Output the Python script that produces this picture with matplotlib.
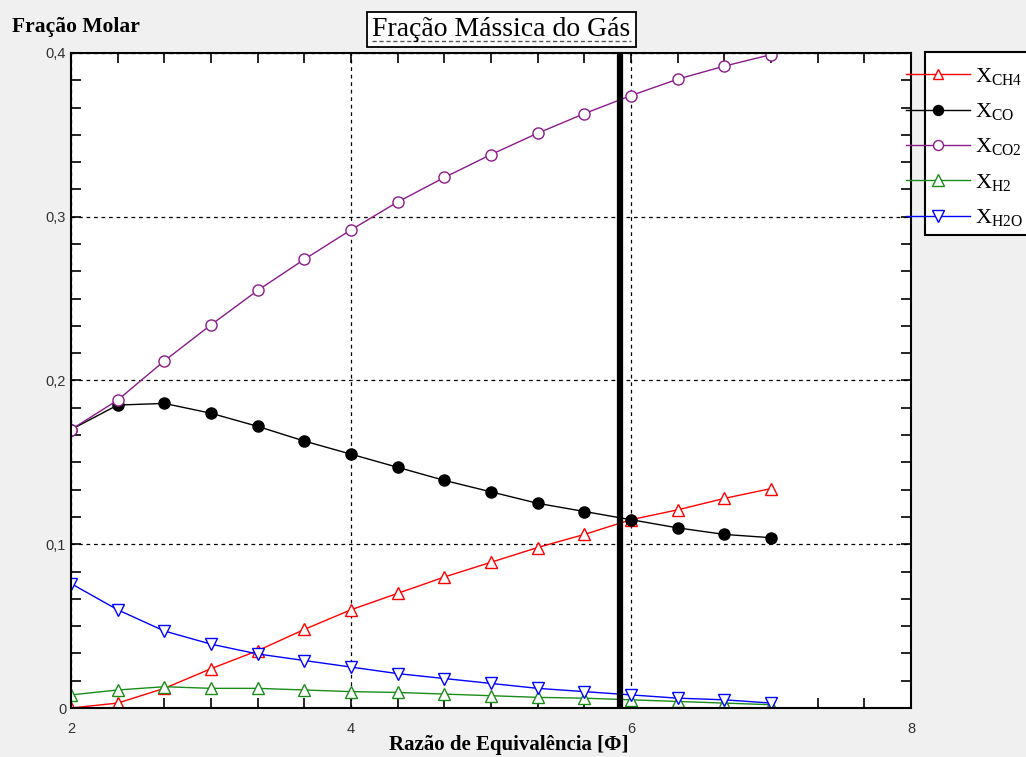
import matplotlib
matplotlib.use('Agg')
import matplotlib.pyplot as plt
from matplotlib.ticker import MultipleLocator, FuncFormatter
from matplotlib.patches import Rectangle
from matplotlib.lines import Line2D

# equivalence ratio where the markers sit
phi = [2.0, 2.333, 2.667, 3.0, 3.333, 3.667, 4.0, 4.333,
       4.667, 5.0, 5.333, 5.667, 6.0, 6.333, 6.667, 7.0]

x_ch4 = [0.000, 0.003, 0.012, 0.024, 0.035, 0.048, 0.060, 0.070,
         0.080, 0.089, 0.098, 0.106, 0.115, 0.121, 0.128, 0.134]
x_co = [0.170, 0.185, 0.186, 0.180, 0.172, 0.163, 0.155, 0.147,
        0.139, 0.132, 0.125, 0.120, 0.115, 0.110, 0.106, 0.104]
x_co2 = [0.170, 0.188, 0.212, 0.234, 0.255, 0.274, 0.292, 0.309,
         0.324, 0.338, 0.351, 0.363, 0.374, 0.384, 0.392, 0.399]
x_h2 = [0.008, 0.011, 0.013, 0.012, 0.012, 0.011, 0.010, 0.0095,
        0.0085, 0.0075, 0.0065, 0.006, 0.005, 0.004, 0.003, 0.002]
x_h2o = [0.076, 0.060, 0.047, 0.039, 0.033, 0.029, 0.025, 0.021,
         0.018, 0.015, 0.012, 0.010, 0.008, 0.006, 0.005, 0.003]

phi_mark = 5.92
serif = 'Liberation Serif'
sans = 'Liberation Sans'

plt.rcParams['mathtext.fontset'] = 'custom'
plt.rcParams['mathtext.rm'] = serif

fig = plt.figure(figsize=(10.26, 7.57), dpi=100)
fig.patch.set_facecolor('#f0f0f0')
ax = fig.add_axes([71/1026, 49/757, 840/1026, 655/757])

ax.plot(phi, x_ch4, color='red', lw=1, marker='^', ms=8, mfc='white', mec='red',
        label=r'X$_{\mathrm{CH4}}$')
ax.plot(phi, x_co, color='black', lw=1, marker='o', ms=8, mfc='black', mec='black',
        label=r'X$_{\mathrm{CO}}$')
ax.plot(phi, x_co2, color='#8b1a8b', lw=1, marker='o', ms=8, mfc='white', mec='#8b1a8b',
        label=r'X$_{\mathrm{CO2}}$')
ax.plot(phi, x_h2, color='#1a8c1a', lw=1, marker='^', ms=9, mfc='white', mec='#1a8c1a',
        label=r'X$_{\mathrm{H2}}$')
ax.plot(phi, x_h2o, color='blue', lw=1, marker='v', ms=9, mfc='white', mec='blue',
        label=r'X$_{\mathrm{H2O}}$')

ax.axvline(phi_mark, color='black', lw=4.5, zorder=5)

ax.set_xlim(2, 8)
ax.set_ylim(0, 0.4)
ax.xaxis.set_major_locator(MultipleLocator(2))
ax.xaxis.set_minor_locator(MultipleLocator(1/3))
ax.yaxis.set_major_locator(MultipleLocator(0.1))
ax.yaxis.set_minor_locator(MultipleLocator(0.1/6))
ax.yaxis.set_major_formatter(FuncFormatter(lambda v, p: '0' if abs(v) < 1e-9 else f'{v:.1f}'.replace('.', ',')))
ax.tick_params(which='both', direction='in', length=7, width=1.2, top=True, right=True,
               labelsize=10.5, labelcolor='#333333')
ax.tick_params(axis='x', pad=10)
for lab in ax.get_xticklabels() + ax.get_yticklabels():
    lab.set_family(sans)
ax.grid(which='major', color='black', ls=(0, (3, 3)), lw=0.9)
for s in ax.spines.values():
    s.set_linewidth(1.5)

fig.text(12/1026, 1 - 27/757, 'Fração Molar', fontsize=15.5, fontweight='bold',
         family=serif, va='center', ha='left')
fig.text(509/1026, 1 - 745/757, 'Razão de Equivalência [Φ]', fontsize=15, fontweight='bold',
         family=serif, va='center', ha='center')

# title box with dashed underline
fig.patches.append(Rectangle((367/1026, 1 - 47/757), 269/1026, 35/757,
                             transform=fig.transFigure, fc='white', ec='black', lw=1.3))
fig.text(501/1026, 1 - 29/757, 'Fração Mássica do Gás', fontsize=20, family=serif,
         va='center', ha='center')
fig.lines.append(Line2D([372/1026, 631/1026], [1 - 41/757, 1 - 41/757],
                        transform=fig.transFigure, color='#555555', lw=1, ls=(0, (3, 2))))

# legend box
fig.patches.append(Rectangle((925/1026, 1 - 235/757), 110/1026, 183/757,
                             transform=fig.transFigure, fc='white', ec='black', lw=1.5,
                             zorder=-1))
handles, labels = ax.get_legend_handles_labels()
fig.legend(handles, labels, loc='upper left', bbox_to_anchor=(906/1026, 1 - 66/757),
           frameon=False, handlelength=2.9, handletextpad=0.2, labelspacing=0.62,
           borderpad=0, borderaxespad=0, prop={'family': serif, 'size': 16},
           markerscale=0.9)

fig.savefig('out.png', dpi=100, facecolor=fig.get_facecolor())
